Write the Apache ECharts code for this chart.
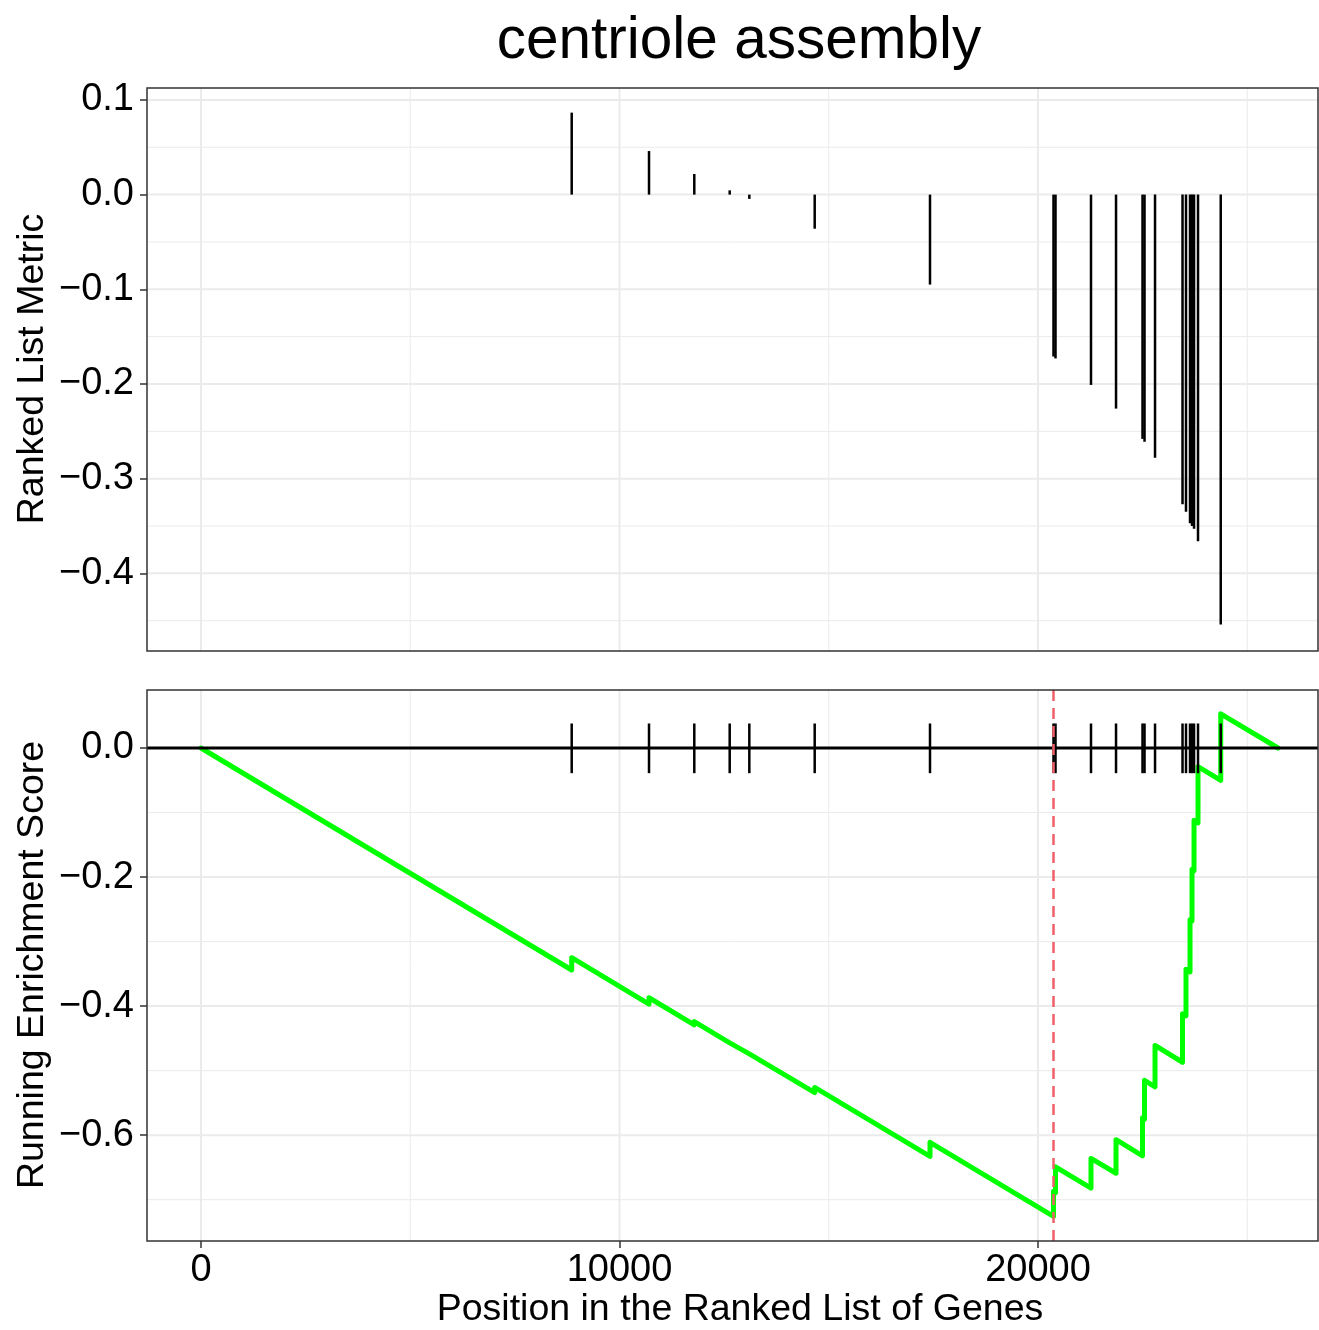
<!DOCTYPE html>
<html>
<head>
<meta charset="utf-8">
<title>centriole assembly</title>
<script src="https://cdn.jsdelivr.net/npm/echarts@6/dist/echarts.min.js"></script>
<style>
  html, body { margin: 0; padding: 0; background: #ffffff; }
  #chart { width: 1319px; height: 1330px; }
</style>
</head>
<body>
<div id="chart"></div>
<script>
// Gene-set hits: position in the ranked list and the ranking metric at that position
const hitPositions = [8858, 10705, 11787, 12633, 13102, 14664, 17419, 20370, 20418, 21266,
  21864, 22497, 22545, 22796, 23453, 23536, 23632, 23680, 23728, 23823, 24366];
const rankedMetric = [0.0866, 0.046, 0.0218, 0.0045, -0.0045, -0.036, -0.095, -0.171, -0.173, -0.201,
  -0.226, -0.258, -0.261, -0.278, -0.327, -0.335, -0.347, -0.350, -0.353, -0.366, -0.454];

// Running enrichment score just before and just after each hit
const esBefore = [-0.344, -0.397, -0.429, -0.457, -0.474, -0.534, -0.633, -0.726, -0.689, -0.682,
  -0.659, -0.632, -0.575, -0.525, -0.487, -0.415, -0.347, -0.268, -0.190, -0.116, -0.050];
const esAfter = [-0.325, -0.387, -0.424, -0.456, -0.473, -0.526, -0.611, -0.687, -0.649, -0.636,
  -0.607, -0.573, -0.515, -0.461, -0.412, -0.343, -0.266, -0.188, -0.112, -0.029, 0.053];

const listStart = 0;
const listEnd = 25735;
const peakPosition = 20370;

// Tick labels and grid breaks
const xTicks = [0, 10000, 20000];
const xMinorGrid = [5000, 15000, 25000];
const metricTicks = [0.1, 0.0, -0.1, -0.2, -0.3, -0.4];
const metricMinorGrid = [0.05, -0.05, -0.15, -0.25, -0.35, -0.45];
const esTicks = [0.0, -0.2, -0.4, -0.6];
const esMinorGrid = [-0.1, -0.3, -0.5, -0.7];

const FONT = '"Liberation Sans", Arial, Helvetica, sans-serif';
const GRID_COLOR = '#ebebeb';
const TICK_FONT = 38;
const TITLE_FONT = 37.5;

// Running score polyline: vertical step at every hit, linear decline between hits
const esLine = [[listStart, 0]];
hitPositions.forEach((p, i) => {
  esLine.push([p, esBefore[i]]);
  esLine.push([p, esAfter[i]]);
});
esLine.push([listEnd, 0]);

const fmtSigned = v => {
  const s = Math.abs(v) < 1e-9 ? '0.0' : v.toFixed(1);
  return s.replace('-', '\u2212');
};

function vGridSeries(axisIdx) {
  const data = xTicks.map(v => [v, 2]).concat(xMinorGrid.map(v => [v, 1]));
  return {
    type: 'custom', xAxisIndex: axisIdx, yAxisIndex: axisIdx, silent: true, z: 0,
    data: data,
    renderItem: (params, api) => {
      const cs = params.coordSys;
      const x = api.coord([api.value(0), 0])[0];
      return { type: 'line', shape: { x1: x, y1: cs.y, x2: x, y2: cs.y + cs.height },
        style: { stroke: GRID_COLOR, lineWidth: api.value(1) } };
    }
  };
}

function hGridSeries(axisIdx, major, minor) {
  const data = major.map(v => [0, v, 2]).concat(minor.map(v => [0, v, 1]));
  return {
    type: 'custom', xAxisIndex: axisIdx, yAxisIndex: axisIdx, silent: true, z: 0,
    data: data,
    renderItem: (params, api) => {
      const cs = params.coordSys;
      const y = api.coord([0, api.value(1)])[1];
      return { type: 'line', shape: { x1: cs.x, y1: y, x2: cs.x + cs.width, y2: y },
        style: { stroke: GRID_COLOR, lineWidth: api.value(2) } };
    }
  };
}

const chart = echarts.init(document.getElementById('chart'), null, { renderer: 'canvas' });

const baseX = {
  type: 'value', min: -1290, max: 26690,
  axisLine: { show: false, onZero: false }, splitLine: { show: false }
};

const yTickStyle = { show: true, length: 7, lineStyle: { color: '#333333', width: 1.5 } };

chart.setOption({
  animation: false,
  backgroundColor: '#ffffff',
  grid: [
    { left: 147, top: 88, width: 1171, height: 563, show: true, borderColor: '#333333', borderWidth: 1.5, backgroundColor: 'transparent', z: 5 },
    { left: 147, top: 690, width: 1171, height: 551, show: true, borderColor: '#333333', borderWidth: 1.5, backgroundColor: 'transparent', z: 5 }
  ],
  xAxis: [
    Object.assign({}, baseX, { gridIndex: 0, position: 'bottom', axisTick: { show: false }, axisLabel: { show: false } }),
    Object.assign({}, baseX, {
      gridIndex: 1, position: 'bottom',
      axisTick: Object.assign({}, yTickStyle, { customValues: xTicks }),
      axisLabel: { show: true, customValues: xTicks, color: '#000000', fontSize: TICK_FONT, fontFamily: FONT, margin: 11,
        formatter: v => String(Math.round(v)) }
    })
  ],
  yAxis: [
    {
      gridIndex: 0, type: 'value', min: -0.482, max: 0.1126, position: 'left',
      axisLine: { show: false, onZero: false }, splitLine: { show: false },
      axisTick: Object.assign({}, yTickStyle, { customValues: metricTicks }),
      axisLabel: { show: true, customValues: metricTicks, color: '#000000', fontSize: TICK_FONT, fontFamily: FONT, margin: 13,
        formatter: fmtSigned }
    },
    {
      gridIndex: 1, type: 'value', min: -0.764, max: 0.0899, position: 'left',
      axisLine: { show: false, onZero: false }, splitLine: { show: false },
      axisTick: Object.assign({}, yTickStyle, { customValues: esTicks }),
      axisLabel: { show: true, customValues: esTicks, color: '#000000', fontSize: TICK_FONT, fontFamily: FONT, margin: 13,
        formatter: fmtSigned }
    }
  ],
  graphic: [
    { type: 'text', x: 739, y: 42, z: 10, silent: true,
      style: { text: 'centriole assembly', fill: '#000000', font: '58.5px ' + FONT, textAlign: 'center', textVerticalAlign: 'middle' } },
    { type: 'text', x: 740, y: 1310, z: 10, silent: true,
      style: { text: 'Position in the Ranked List of Genes', fill: '#000000', font: TITLE_FONT + 'px ' + FONT, textAlign: 'center', textVerticalAlign: 'middle' } },
    { type: 'text', x: 33, y: 369, rotation: Math.PI / 2, z: 10, silent: true,
      style: { text: 'Ranked List Metric', fill: '#000000', font: TITLE_FONT + 'px ' + FONT, textAlign: 'center', textVerticalAlign: 'middle' } },
    { type: 'text', x: 33, y: 965, rotation: Math.PI / 2, z: 10, silent: true,
      style: { text: 'Running Enrichment Score', fill: '#000000', font: TITLE_FONT + 'px ' + FONT, textAlign: 'center', textVerticalAlign: 'middle' } }
  ],
  series: [
    vGridSeries(0),
    hGridSeries(0, metricTicks, metricMinorGrid),
    vGridSeries(1),
    hGridSeries(1, esTicks, esMinorGrid),
    // Ranked list metric at each hit, drawn as a segment from zero
    {
      type: 'custom', xAxisIndex: 0, yAxisIndex: 0, silent: true, z: 3,
      data: hitPositions.map((p, i) => [p, rankedMetric[i]]),
      renderItem: (params, api) => {
        const a = api.coord([api.value(0), 0]);
        const b = api.coord([api.value(0), api.value(1)]);
        return { type: 'line', shape: { x1: a[0], y1: a[1], x2: b[0], y2: b[1] },
          style: { stroke: '#000000', lineWidth: 2.5 } };
      }
    },
    // Running enrichment score
    {
      type: 'line', xAxisIndex: 1, yAxisIndex: 1, z: 2, silent: true,
      data: esLine, showSymbol: false, symbol: 'none',
      lineStyle: { color: '#00ff00', width: 5, join: 'round', cap: 'round' },
      markLine: {
        silent: true, symbol: 'none', label: { show: false }, z: 4,
        lineStyle: { color: '#f0606a', width: 2.5, type: [11, 7] },
        data: [{ xAxis: peakPosition }]
      }
    },
    // Zero line
    {
      type: 'custom', xAxisIndex: 1, yAxisIndex: 1, silent: true, z: 3,
      data: [[0, 0]],
      renderItem: (params, api) => {
        const cs = params.coordSys;
        const y = api.coord([0, 0])[1];
        return { type: 'line', shape: { x1: cs.x, y1: y, x2: cs.x + cs.width, y2: y },
          style: { stroke: '#000000', lineWidth: 3 } };
      }
    },
    // Hit ticks along the zero line
    {
      type: 'custom', xAxisIndex: 1, yAxisIndex: 1, silent: true, z: 3,
      data: hitPositions.map(p => [p, 0]),
      renderItem: (params, api) => {
        const a = api.coord([api.value(0), 0.038]);
        const b = api.coord([api.value(0), -0.039]);
        return { type: 'line', shape: { x1: a[0], y1: a[1], x2: b[0], y2: b[1] },
          style: { stroke: '#000000', lineWidth: 2.5 } };
      }
    }
  ]
});
</script>
</body>
</html>
